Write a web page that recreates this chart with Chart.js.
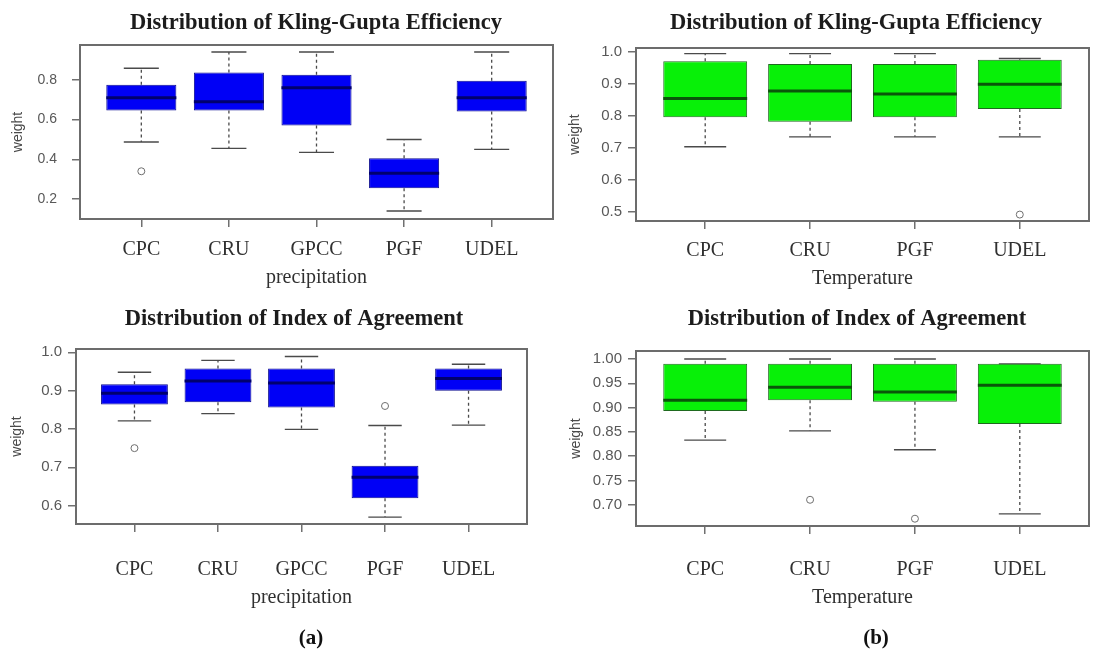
<!DOCTYPE html>
<html>
<head>
<meta charset="utf-8">
<script src="https://cdn.jsdelivr.net/npm/chart.js@4.4.1/dist/chart.umd.min.js"></script>
<style>
  html, body { margin: 0; padding: 0; background: #fff; }
  #wrap { position: relative; width: 1107px; height: 661px; overflow: hidden; background: #fff; }
  #wrap canvas { position: absolute; left: 0; top: 0; }
  .tag { position: absolute; font: bold 21px "Liberation Serif", serif; color: #111;
         transform: translate(-50%, -50%); white-space: nowrap; }
</style>
</head>
<body>
<div id="wrap">
  <canvas id="kgePrecip" width="1107" height="661"></canvas>
  <canvas id="kgeTemp" width="1107" height="661"></canvas>
  <canvas id="ioaPrecip" width="1107" height="661"></canvas>
  <canvas id="ioaTemp" width="1107" height="661"></canvas>
  <div class="tag" style="left:311px; top:637px;">(a)</div>
  <div class="tag" style="left:876px; top:637px;">(b)</div>
</div>
<script>
// ---- data -------------------------------------------------------------
const precipSources = ['CPC', 'CRU', 'GPCC', 'PGF', 'UDEL'];
const tempSources = ['CPC', 'CRU', 'PGF', 'UDEL'];

// Kling-Gupta Efficiency, precipitation products
const kgePrecipLower  = [0.487, 0.455, 0.435, 0.14, 0.45];
const kgePrecipQ1     = [0.645, 0.645, 0.57, 0.255, 0.64];
const kgePrecipMedian = [0.71, 0.69, 0.76, 0.33, 0.71];
const kgePrecipQ3     = [0.775, 0.837, 0.825, 0.405, 0.795];
const kgePrecipUpper  = [0.858, 0.94, 0.94, 0.50, 0.94];
const kgePrecipOutliers = [[0.34], [], [], [], []];
const kgePrecipTicks  = [0.2, 0.4, 0.6, 0.8];

// Kling-Gupta Efficiency, temperature products
const kgeTempLower  = [0.703, 0.734, 0.734, 0.734];
const kgeTempQ1     = [0.795, 0.781, 0.795, 0.821];
const kgeTempMedian = [0.853, 0.877, 0.867, 0.898];
const kgeTempQ3     = [0.969, 0.961, 0.961, 0.974];
const kgeTempUpper  = [0.993, 0.993, 0.993, 0.978];
const kgeTempOutliers = [[], [], [], [0.492]];
const kgeTempTicks  = [0.5, 0.6, 0.7, 0.8, 0.9, 1.0];

// Index of Agreement, precipitation products
const ioaPrecipLower  = [0.821, 0.840, 0.799, 0.570, 0.81];
const ioaPrecipQ1     = [0.864, 0.870, 0.856, 0.619, 0.90];
const ioaPrecipMedian = [0.893, 0.925, 0.92, 0.674, 0.932];
const ioaPrecipQ3     = [0.917, 0.958, 0.958, 0.704, 0.958];
const ioaPrecipUpper  = [0.948, 0.979, 0.989, 0.809, 0.969];
const ioaPrecipOutliers = [[0.75], [], [], [0.86], []];
const ioaPrecipTicks  = [0.6, 0.7, 0.8, 0.9, 1.0];

// Index of Agreement, temperature products
const ioaTempLower  = [0.833, 0.852, 0.813, 0.681];
const ioaTempQ1     = [0.893, 0.915, 0.912, 0.866];
const ioaTempMedian = [0.915, 0.942, 0.932, 0.946];
const ioaTempQ3     = [0.990, 0.990, 0.990, 0.990];
const ioaTempUpper  = [1.0, 1.0, 1.0, 0.990];
const ioaTempOutliers = [[], [0.71], [0.671], []];
const ioaTempTicks  = [0.70, 0.75, 0.80, 0.85, 0.90, 0.95, 1.00];

// ---- panel layout -------------------------------------------------------
const BLUE = { fill: '#0000f6', edge: '#0c0c90', median: '#00006e' };
const GREEN = { fill: '#08f008', edge: '#1f6a1f', median: '#0a560a' };

const panels = [
  {
    canvas: 'kgePrecip', sources: precipSources,
    stats: { lower: kgePrecipLower, q1: kgePrecipQ1, median: kgePrecipMedian, q3: kgePrecipQ3, upper: kgePrecipUpper, outliers: kgePrecipOutliers },
    yTicks: kgePrecipTicks, decimals: 1, yRange: [0.1, 0.975], xRange: [0.3, 5.7],
    title: 'Distribution of Kling-Gupta Efficiency', titleX: 316, titleY: 29, xTitle: 'precipitation',
    area: { left: 80, right: 553, top: 45, bottom: 219 },
    xAxisH: 71, xLabelPad: 11, weightX: 18, yTickPad: 15, yTickSize: 14, colors: BLUE
  },
  {
    canvas: 'kgeTemp', sources: tempSources,
    stats: { lower: kgeTempLower, q1: kgeTempQ1, median: kgeTempMedian, q3: kgeTempQ3, upper: kgeTempUpper, outliers: kgeTempOutliers },
    yTicks: kgeTempTicks, decimals: 1, yRange: [0.472, 1.0106], xRange: [0.34, 4.66],
    title: 'Distribution of Kling-Gupta Efficiency', titleX: 856, titleY: 29, xTitle: 'Temperature',
    area: { left: 636, right: 1089, top: 48, bottom: 221 },
    xAxisH: 70, xLabelPad: 10, weightX: 575, yTickPad: 6, yTickSize: 15, colors: GREEN
  },
  {
    canvas: 'ioaPrecip', sources: precipSources,
    stats: { lower: ioaPrecipLower, q1: ioaPrecipQ1, median: ioaPrecipMedian, q3: ioaPrecipQ3, upper: ioaPrecipUpper, outliers: ioaPrecipOutliers },
    yTicks: ioaPrecipTicks, decimals: 1, yRange: [0.552, 1.0087], xRange: [0.3, 5.7],
    title: 'Distribution of Index of Agreement', titleX: 294, titleY: 325, xTitle: 'precipitation',
    area: { left: 76, right: 527, top: 349, bottom: 524 },
    xAxisH: 86, xLabelPad: 26, weightX: 17, yTickPad: 6, yTickSize: 15, colors: BLUE
  },
  {
    canvas: 'ioaTemp', sources: tempSources,
    stats: { lower: ioaTempLower, q1: ioaTempQ1, median: ioaTempMedian, q3: ioaTempQ3, upper: ioaTempUpper, outliers: ioaTempOutliers },
    yTicks: ioaTempTicks, decimals: 2, yRange: [0.656, 1.0165], xRange: [0.34, 4.66],
    title: 'Distribution of Index of Agreement', titleX: 857, titleY: 325, xTitle: 'Temperature',
    area: { left: 636, right: 1089, top: 351, bottom: 526 },
    xAxisH: 84, xLabelPad: 24, weightX: 576, yTickPad: 6, yTickSize: 15, colors: GREEN
  }
];

// ---- box-and-whisker pieces drawn around the floating bars ----------------
function boxPartsPlugin(p) {
  const s = p.stats;
  return {
    id: 'boxParts',
    beforeDatasetsDraw(chart) {
      const { ctx, scales: { x, y } } = chart;
      const bars = chart.getDatasetMeta(0).data;
      ctx.save();
      ctx.strokeStyle = '#4a4a4a';
      s.median.forEach((_, i) => {
        const cx = x.getPixelForValue(i + 1);
        const hw = bars[i].width / 2;
        // dashed whiskers
        ctx.lineWidth = 1.3;
        ctx.setLineDash([3, 3]);
        ctx.beginPath();
        ctx.moveTo(cx, y.getPixelForValue(s.q3[i]));
        ctx.lineTo(cx, y.getPixelForValue(s.upper[i]));
        ctx.moveTo(cx, y.getPixelForValue(s.q1[i]));
        ctx.lineTo(cx, y.getPixelForValue(s.lower[i]));
        ctx.stroke();
        // whisker caps, half the box width
        ctx.setLineDash([]);
        ctx.lineWidth = 1.4;
        ctx.beginPath();
        [s.upper[i], s.lower[i]].forEach(v => {
          const py = y.getPixelForValue(v);
          ctx.moveTo(cx - hw / 2, py);
          ctx.lineTo(cx + hw / 2, py);
        });
        ctx.stroke();
      });
      ctx.restore();
    },
    afterDatasetsDraw(chart) {
      const { ctx, chartArea: a, scales: { x, y } } = chart;
      const bars = chart.getDatasetMeta(0).data;
      ctx.save();
      // medians
      ctx.strokeStyle = p.colors.median;
      ctx.lineWidth = 3;
      s.median.forEach((m, i) => {
        const cx = x.getPixelForValue(i + 1);
        const hw = bars[i].width / 2;
        const py = y.getPixelForValue(m);
        ctx.beginPath();
        ctx.moveTo(cx - hw, py);
        ctx.lineTo(cx + hw, py);
        ctx.stroke();
      });
      // plot frame
      ctx.strokeStyle = '#6c6c6c';
      ctx.lineWidth = 2;
      ctx.strokeRect(a.left, a.top, a.right - a.left, a.bottom - a.top);
      // panel title
      ctx.fillStyle = '#1c1c1c';
      ctx.font = 'bold 22.5px "Liberation Serif", serif';
      ctx.textAlign = 'center';
      ctx.textBaseline = 'alphabetic';
      ctx.fillText(p.title, p.titleX, p.titleY);
      ctx.restore();
    }
  };
}

Chart.defaults.font.family = '"Liberation Sans", Arial, sans-serif';
Chart.defaults.animation = false;

const PAGE_W = 1107, PAGE_H = 661;
const Y_AXIS_W = 60;
const WEIGHT_FONT = 14;

panels.forEach(p => {
  const s = p.stats;
  const axisLeft = p.area.left - Y_AXIS_W;
  new Chart(document.getElementById(p.canvas), {
    type: 'bar',
    data: {
      datasets: [
        {
          type: 'bar',
          data: p.sources.map((_, i) => ({ x: i + 1, y: [s.q1[i], s.q3[i]] })),
          backgroundColor: p.colors.fill,
          borderColor: p.colors.edge,
          borderWidth: 1,
          borderSkipped: false,
          categoryPercentage: 1,
          barPercentage: 0.8
        },
        {
          type: 'scatter',
          data: s.outliers.flatMap((vals, i) => vals.map(v => ({ x: i + 1, y: v }))),
          pointStyle: 'circle',
          pointRadius: 3.5,
          pointBorderWidth: 1,
          pointBorderColor: '#6e6e6e',
          pointBackgroundColor: 'rgba(255,255,255,0)'
        }
      ]
    },
    options: {
      responsive: false,
      devicePixelRatio: 1,
      events: [],
      layout: {
        padding: {
          left: axisLeft,
          right: PAGE_W - p.area.right,
          top: p.area.top,
          bottom: PAGE_H - p.area.bottom - p.xAxisH
        }
      },
      plugins: { legend: { display: false }, tooltip: { enabled: false }, title: { display: false } },
      scales: {
        x: {
          type: 'linear',
          min: p.xRange[0], max: p.xRange[1],
          offset: false,
          afterBuildTicks: sc => { sc.ticks = p.sources.map((_, i) => ({ value: i + 1 })); },
          afterFit: sc => { sc.height = p.xAxisH; sc.paddingLeft = 0; sc.paddingRight = 0; },
          ticks: {
            callback: (v, i) => p.sources[i],
            autoSkip: false, maxRotation: 0,
            padding: p.xLabelPad,
            color: '#303030',
            font: { family: '"Liberation Serif", serif', size: 20 }
          },
          grid: { drawOnChartArea: false, offset: false, tickLength: 8, color: '#707070', lineWidth: 1.5 },
          border: { display: false },
          title: {
            display: true, text: p.xTitle, color: '#303030',
            font: { family: '"Liberation Serif", serif', size: 20 },
            padding: { top: 0, bottom: 0 }
          }
        },
        y: {
          type: 'linear',
          min: p.yRange[0], max: p.yRange[1],
          afterBuildTicks: sc => { sc.ticks = p.yTicks.map(v => ({ value: v })); },
          afterFit: sc => { sc.width = Y_AXIS_W; sc.paddingTop = 0; sc.paddingBottom = 0; },
          ticks: {
            callback: v => Number(v).toFixed(p.decimals),
            padding: p.yTickPad,
            color: '#585858',
            font: { size: p.yTickSize }
          },
          grid: { drawOnChartArea: false, tickLength: 8, color: '#707070', lineWidth: 1.5 },
          border: { display: false },
          title: {
            display: true, text: 'weight', color: '#4a4a4a',
            font: { size: WEIGHT_FONT },
            // the rotated title is centred at axisLeft + lineHeight/2 + padding.top
            padding: { top: p.weightX - axisLeft - WEIGHT_FONT * 0.6, bottom: 0 }
          }
        }
      }
    },
    plugins: [boxPartsPlugin(p)]
  });
});
</script>
</body>
</html>
